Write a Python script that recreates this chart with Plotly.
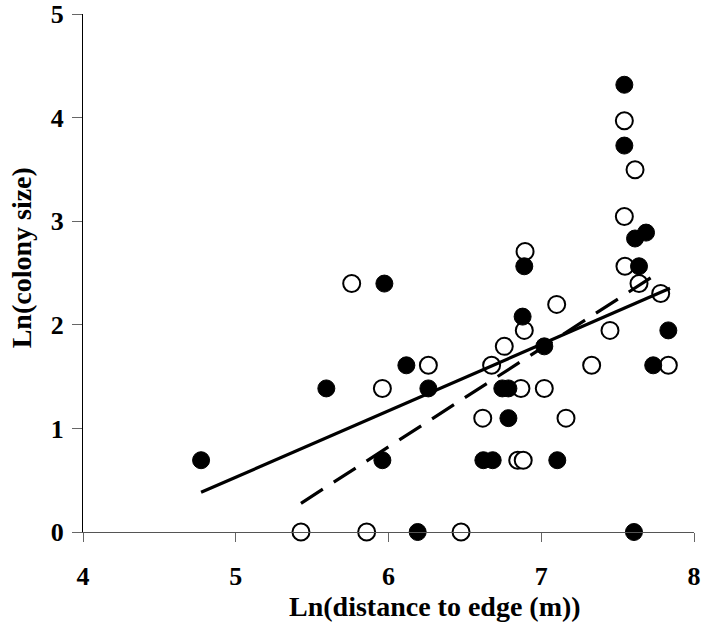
import plotly.graph_objects as go

# Open (hollow) circles
open_x = [5.759, 5.427, 5.857, 6.475, 5.960, 6.261, 7.544, 7.614, 7.544, 6.894,
          7.548, 7.640, 7.782, 7.101, 6.889, 7.450, 6.758, 6.675, 7.330, 7.832,
          6.867, 7.020, 6.617, 7.162, 6.846, 6.882]
open_y = [2.398, 0.0, 0.0, 0.0, 1.386, 1.609, 3.970, 3.497, 3.045, 2.708,
          2.565, 2.398, 2.303, 2.197, 1.946, 1.946, 1.792, 1.609, 1.609, 1.609,
          1.386, 1.386, 1.099, 1.099, 0.693, 0.693]

# Filled circles
fill_x = [4.773, 5.593, 5.973, 6.117, 6.261, 5.960, 6.191, 7.544, 7.544, 7.686,
          7.614, 6.889, 7.640, 6.878, 7.832, 7.020, 7.733, 6.745, 6.785, 6.785,
          6.621, 6.682, 7.105, 7.607]
fill_y = [0.693, 1.386, 2.398, 1.609, 1.386, 0.693, 0.0, 4.317, 3.730, 2.890,
          2.833, 2.565, 2.565, 2.079, 1.946, 1.792, 1.609, 1.386, 1.386, 1.099,
          0.693, 0.693, 0.693, 0.0]

# Regression lines
solid_x = [4.773, 7.843]
solid_y = [0.383, 2.352]
dash_x = [5.427, 7.766]
dash_y = [0.277, 2.500]

x_ticks = [4, 5, 6, 7, 8]
y_ticks = [0, 1, 2, 3, 4, 5]

FONT = "Liberation Serif"

fig = go.Figure()
fig.add_trace(go.Scatter(x=open_x, y=open_y, mode="markers",
                         marker=dict(size=17, color="white",
                                     line=dict(color="black", width=2)),
                         cliponaxis=False, showlegend=False))
fig.add_trace(go.Scatter(x=fill_x, y=fill_y, mode="markers",
                         marker=dict(size=17, color="black",
                                     line=dict(color="black", width=1)),
                         cliponaxis=False, showlegend=False))
fig.add_trace(go.Scatter(x=solid_x, y=solid_y, mode="lines",
                         line=dict(color="black", width=3.2),
                         showlegend=False))
fig.add_trace(go.Scatter(x=dash_x, y=dash_y, mode="lines",
                         line=dict(color="black", width=3.2, dash="26px,13px"),
                         showlegend=False))

fig.update_layout(
    width=703, height=623,
    margin=dict(l=83, r=9, t=14, b=91),
    paper_bgcolor="white", plot_bgcolor="white",
    xaxis=dict(range=[4, 8], tickvals=x_ticks,
               ticktext=[f"<b>{v}</b>" for v in x_ticks],
               showgrid=False, zeroline=False, automargin=False,
               showline=True, linecolor="#555", linewidth=1,
               ticks="outside", ticklen=9, tickcolor="#666", tickwidth=1,
               ticklabelstandoff=12, ticklabeloverflow="allow",
               tickfont=dict(family=FONT, size=26, color="black", weight="bold")),
    yaxis=dict(range=[0, 5], tickvals=y_ticks,
               ticktext=[f"<b>{v}</b>" for v in y_ticks],
               showgrid=False, zeroline=False, automargin=False,
               showline=True, linecolor="black", linewidth=1,
               ticks="outside", ticklen=10, tickcolor="#666", tickwidth=1,
               ticklabelstandoff=3, ticklabeloverflow="allow",
               tickfont=dict(family=FONT, size=26, color="black", weight="bold")),
    annotations=[
        dict(text="<b>Ln(distance to edge (m))</b>", xref="paper", yref="paper",
             x=0.576, y=-0.143, xanchor="center", yanchor="middle",
             showarrow=False,
             font=dict(family=FONT, size=28, color="black")),
        dict(text="<b>Ln(colony size)</b>", xref="paper", yref="paper",
             x=-0.100, y=0.53, xanchor="center", yanchor="middle",
             textangle=-90, showarrow=False,
             font=dict(family=FONT, size=28, color="black")),
    ],
)

fig.write_html("out.html", config={"displayModeBar": False},
               post_script="document.body.style.margin='0';")
